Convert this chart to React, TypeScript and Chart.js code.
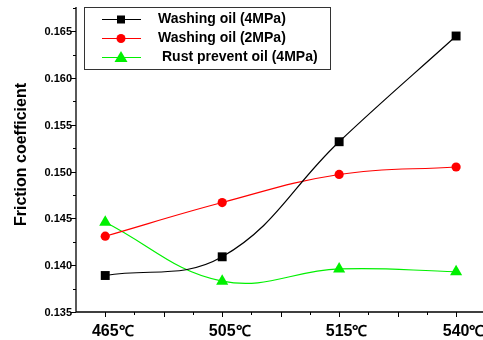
import React, { useEffect, useRef } from "react";
import { Chart, registerables } from "chart.js";

Chart.register(...registerables);

const categories = ["465", "505", "515", "540"];
const unit = "℃";
const seriesNames = ["Washing oil (4MPa)", "Washing oil (2MPa)", "Rust prevent oil (4MPa)"];
const washing4 = [0.1389, 0.1409, 0.1532, 0.1645];
const washing2 = [0.1431, 0.1467, 0.1497, 0.1505];
const rust4 = [0.1446, 0.1383, 0.1396, 0.1393];
const yMajorTicks = [0.135, 0.14, 0.145, 0.15, 0.155, 0.16, 0.165];
const yTitle = "Friction coefficient";

const colors = ["#000000", "#ff0000", "#00f000"];
const styles = ["rect", "circle", "triangle"];
const radii = [6.3, 4.6, 7];

const FONT = "'Liberation Sans', Arial, sans-serif";

const axesPlugin = {
  id: "originAxes",
  afterDraw(chart: any) {
    const ctx = chart.ctx;
    const xs = chart.scales.x;
    const ys = chart.scales.y;
    const area = chart.chartArea;
    ctx.save();
    ctx.strokeStyle = "#000";
    ctx.lineWidth = 1.3;
    ctx.beginPath();
    ctx.moveTo(area.left, area.top);
    ctx.lineTo(area.left, area.bottom);
    ctx.lineTo(area.right, area.bottom);
    ctx.stroke();
    ctx.lineWidth = 1;
    for (let v = 0; v <= categories.length - 1 + 1e-9; v += 0.25) {
      const px = Math.round(xs.getPixelForValue(v)) + 0.5;
      const major = Math.abs(v * 2 - Math.round(v * 2)) < 1e-6;
      ctx.beginPath();
      ctx.moveTo(px, area.bottom);
      ctx.lineTo(px, area.bottom + (major ? 5 : 3));
      ctx.stroke();
    }
    ctx.fillStyle = "#000";
    ctx.textBaseline = "alphabetic";
    for (let i = 0; i < categories.length; i++) {
      const px = xs.getPixelForValue(i);
      ctx.font = "bold 16px " + FONT;
      const w = ctx.measureText(categories[i]).width;
      ctx.textAlign = "left";
      ctx.fillText(categories[i], px - w / 2, 336);
      ctx.font = "bold 15px " + FONT;
      ctx.fillText(unit, px + w / 2, 336);
    }
    for (let i = 0; i < yMajorTicks.length; i++) {
      const v = yMajorTicks[i];
      const py = Math.round(ys.getPixelForValue(v)) + 0.5;
      ctx.beginPath();
      ctx.moveTo(area.left, py);
      ctx.lineTo(area.left - 5, py);
      ctx.stroke();
      ctx.font = "bold 11px " + FONT;
      ctx.textAlign = "right";
      ctx.textBaseline = "middle";
      ctx.fillText(v.toFixed(3), area.left - 4, py);
      const mid = v + 0.0025;
      if (mid <= ys.max) {
        const pm = Math.round(ys.getPixelForValue(mid)) + 0.5;
        ctx.beginPath();
        ctx.moveTo(area.left, pm);
        ctx.lineTo(area.left - 3, pm);
        ctx.stroke();
      }
    }
    ctx.save();
    ctx.translate(22, (area.top + area.bottom) / 2 - 5);
    ctx.rotate(-Math.PI / 2);
    ctx.font = "bold 16px " + FONT;
    ctx.textAlign = "center";
    ctx.textBaseline = "middle";
    ctx.fillText(yTitle, 0, 0);
    ctx.restore();
    const bx = 84.5, by = 7.5, bw = 246, bh = 62;
    ctx.strokeStyle = "#333";
    ctx.lineWidth = 1;
    ctx.strokeRect(bx, by, bw, bh);
    const rowsY = [19, 38, 57];
    const textX = [158, 158, 162];
    for (let i = 0; i < 3; i++) {
      const y = rowsY[i];
      ctx.strokeStyle = colors[i];
      ctx.lineWidth = 1;
      ctx.beginPath();
      ctx.moveTo(102, y + 0.5);
      ctx.lineTo(141, y + 0.5);
      ctx.stroke();
      ctx.fillStyle = colors[i];
      if (i === 0) {
        ctx.fillRect(117, y - 3.5, 8, 8);
      } else if (i === 1) {
        ctx.beginPath();
        ctx.arc(121, y + 0.5, 4.5, 0, Math.PI * 2);
        ctx.fill();
      } else {
        ctx.beginPath();
        ctx.moveTo(121, y - 6);
        ctx.lineTo(127.5, y + 5);
        ctx.lineTo(114.5, y + 5);
        ctx.closePath();
        ctx.fill();
      }
      ctx.fillStyle = "#000";
      ctx.font = "bold 14px " + FONT;
      ctx.textBaseline = "middle";
      ctx.textAlign = "left";
      ctx.fillText(seriesNames[i], textX[i], y);
    }
    ctx.restore();
  },
};

export default function App() {
  const ref = useRef<HTMLCanvasElement | null>(null);
  useEffect(() => {
    document.body.style.margin = "0";
    const data = [washing4, washing2, rust4];
    const chart = new Chart(ref.current as HTMLCanvasElement, {
      type: "line",
      data: {
        datasets: data.map((arr, i) => ({
          label: seriesNames[i],
          data: arr.map((v, j) => ({ x: j, y: v })),
          borderColor: colors[i],
          backgroundColor: colors[i],
          borderWidth: 1.2,
          pointStyle: styles[i] as any,
          pointRadius: radii[i],
          pointBorderWidth: 0,
          pointBackgroundColor: colors[i],
          tension: 0.4,
          cubicInterpolationMode: "default" as any,
          fill: false,
          clip: false as any,
        })),
      },
      options: {
        animation: false,
        responsive: false,
        layout: { autoPadding: false, padding: { top: 7, right: 0, left: 0, bottom: 0 } },
        plugins: { legend: { display: false }, tooltip: { enabled: false } },
        scales: {
          x: {
            type: "linear",
            min: -0.25,
            max: 3.23,
            grid: { display: false, drawTicks: false },
            border: { display: false },
            ticks: { display: false },
            afterFit: (s: any) => {
              s.height = 28;
            },
          },
          y: {
            type: "linear",
            min: 0.135,
            max: 0.1676,
            grid: { display: false, drawTicks: false },
            border: { display: false },
            ticks: { display: false },
            afterFit: (s: any) => {
              s.width = 76;
            },
          },
        },
      },
      plugins: [axesPlugin],
    });
    return () => chart.destroy();
  }, []);
  return (
    <div style={{ width: 483, height: 340 }}>
      <canvas ref={ref} width={483} height={340} />
    </div>
  );
}
